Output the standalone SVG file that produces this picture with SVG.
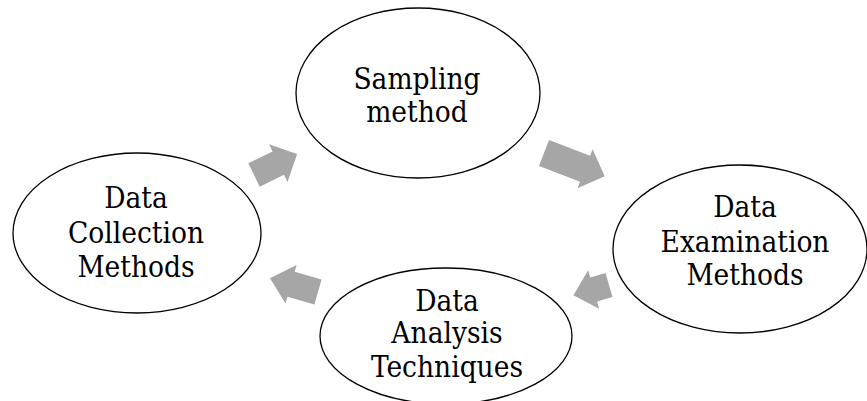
<svg xmlns="http://www.w3.org/2000/svg" width="867" height="401" viewBox="0 0 867 401">
  <style>
    .node ellipse { fill: #ffffff; stroke: #000000; stroke-width: 1.3; }
    .node text { font-family: "DejaVu Serif Condensed", "DejaVu Serif", serif; font-stretch: condensed; font-size: 29.5px; fill: #000000; text-anchor: middle; }
    .flow path { fill: #a6a6a6; stroke: none; }
  </style>
  <rect width="867" height="401" fill="#ffffff"/>

  <!-- block arrows of the cycle -->
  <g id="connectors" class="flow">
    <path transform="translate(254,175) rotate(-26)" d="M0,-13 L27,-13 L27,-21 L48,0 L27,21 L27,13 L0,13 Z"/>
    <path transform="translate(544,153) rotate(21)" d="M0,-14 L44,-14 L44,-21 L65,0 L44,21 L44,14 L0,14 Z"/>
    <path transform="translate(609,285) rotate(164)" d="M0,-12.5 L16,-12.5 L16,-20 L37,0 L16,20 L16,12.5 L0,12.5 Z"/>
    <path transform="translate(318,292) rotate(196)" d="M0,-13 L28,-13 L28,-20 L50,0 L28,20 L28,13 L0,13 Z"/>
  </g>

  <g id="sampling" class="node">
    <ellipse cx="418" cy="93" rx="122" ry="85"/>
    <text x="417" y="89">Sampling</text>
    <text x="417" y="122">method</text>
  </g>

  <g id="examination" class="node">
    <ellipse cx="740" cy="249" rx="127" ry="84"/>
    <text x="745" y="217">Data</text>
    <text x="745" y="252">Examination</text>
    <text x="745" y="285">Methods</text>
  </g>

  <g id="analysis" class="node">
    <ellipse cx="446" cy="336" rx="126" ry="68"/>
    <text x="447" y="311">Data</text>
    <text x="447" y="343">Analysis</text>
    <text x="447" y="377">Techniques</text>
  </g>

  <g id="collection" class="node">
    <ellipse cx="137" cy="233" rx="124" ry="80"/>
    <text x="136" y="208">Data</text>
    <text x="136" y="243">Collection</text>
    <text x="136" y="277">Methods</text>
  </g>
</svg>
